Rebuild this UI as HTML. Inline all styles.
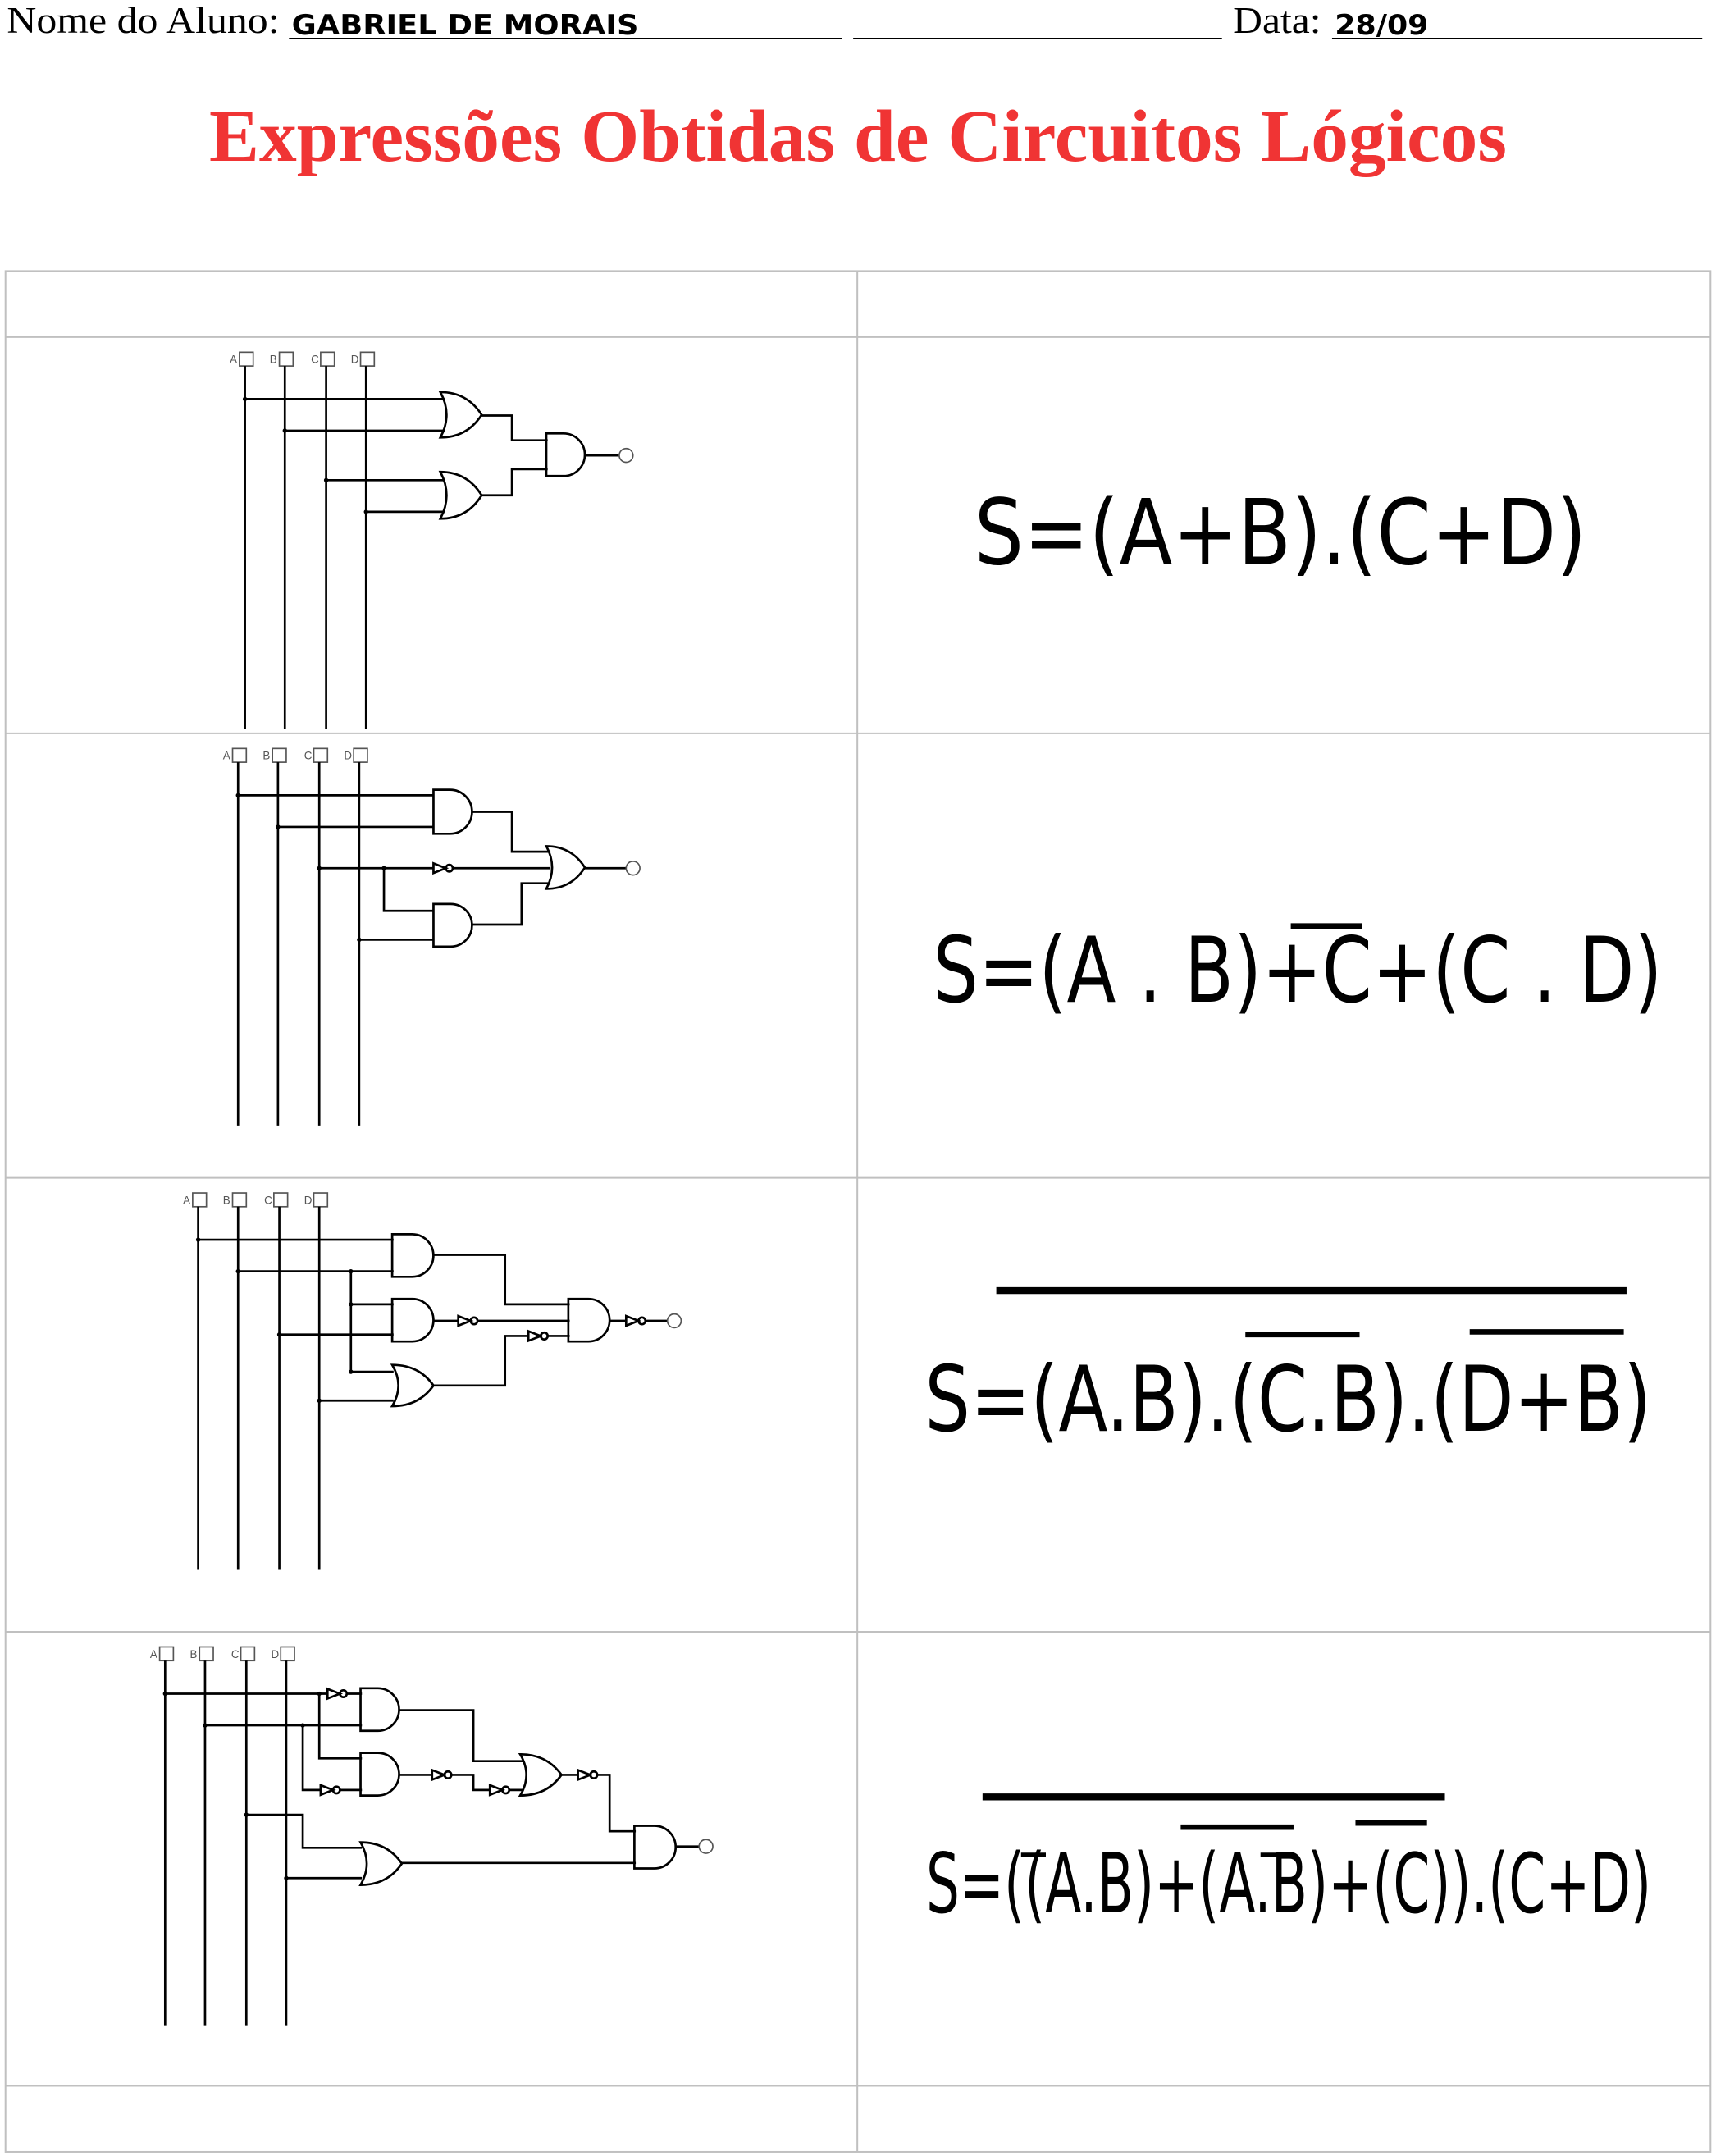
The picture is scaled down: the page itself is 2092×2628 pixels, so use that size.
<!DOCTYPE html>
<html><head><meta charset="utf-8"><style>
html,body{margin:0;padding:0;background:#fff;}
svg{display:block;}
.hw{font-family:"DejaVu Sans","Liberation Sans",sans-serif;fill:#000;}
</style></head><body>
<svg id="page" width="2092" height="2628" viewBox="0 0 1247 1567" preserveAspectRatio="none" xmlns="http://www.w3.org/2000/svg">
<g>
<text x="5" y="24" font-family="Liberation Serif, serif" font-size="27" textLength="198" lengthAdjust="spacingAndGlyphs">Nome do Aluno:</text>
<line x1="210" y1="28" x2="612" y2="28" stroke="#000" stroke-width="1.2"/>
<text x="212" y="25" class="hw" font-size="20" font-weight="bold" textLength="252" lengthAdjust="spacingAndGlyphs">GABRIEL  DE  MORAIS</text>
<line x1="620" y1="28" x2="888" y2="28" stroke="#000" stroke-width="1.2"/>
<text x="896" y="24" font-family="Liberation Serif, serif" font-size="27" textLength="64" lengthAdjust="spacingAndGlyphs">Data:</text>
<line x1="968" y1="28" x2="1237" y2="28" stroke="#000" stroke-width="1.2"/>
<text x="970" y="25" class="hw" font-size="20" font-weight="bold" textLength="68" lengthAdjust="spacingAndGlyphs">28/09</text>
<text x="152" y="117" font-family="Liberation Serif, serif" font-weight="bold" font-size="54" fill="#f03434" textLength="943" lengthAdjust="spacingAndGlyphs">Expressões Obtidas de Circuitos Lógicos</text>
</g>
<g id="table" stroke="#c0c0c0" stroke-width="1.2" fill="none">
<rect x="4" y="197" width="1239" height="1367"/>
<line x1="623" y1="197" x2="623" y2="1564"/>
<line x1="4" y1="245" x2="1243" y2="245"/>
<line x1="4" y1="533" x2="1243" y2="533"/>
<line x1="4" y1="856" x2="1243" y2="856"/>
<line x1="4" y1="1186" x2="1243" y2="1186"/>
<line x1="4" y1="1516" x2="1243" y2="1516"/>
</g>
<g id="circ" stroke="#000" stroke-width="1.6" fill="none"></g>
<g id="expr">
<text x="708" y="410" class="hw" font-size="66" textLength="445" lengthAdjust="spacingAndGlyphs">S=(A+B).(C+D)</text>
<text x="678" y="728" class="hw" font-size="66" textLength="530" lengthAdjust="spacingAndGlyphs">S=(A . B)+C+(C . D)</text>
<line x1="938" y1="673" x2="990" y2="673" stroke="#000" stroke-width="4"/>
<line x1="724" y1="938" x2="1182" y2="938" stroke="#000" stroke-width="5"/>
<line x1="905" y1="970" x2="988" y2="970" stroke="#000" stroke-width="4"/>
<line x1="1068" y1="968" x2="1180" y2="968" stroke="#000" stroke-width="4"/>
<text x="672" y="1040" class="hw" font-size="66" textLength="528" lengthAdjust="spacingAndGlyphs">S=(A.B).(C.B).(D+B)</text>
<line x1="714" y1="1306" x2="1050" y2="1306" stroke="#000" stroke-width="5"/>
<line x1="858" y1="1328" x2="940" y2="1328" stroke="#000" stroke-width="4"/>
<line x1="985" y1="1325" x2="1037" y2="1325" stroke="#000" stroke-width="4"/>
<line x1="742" y1="1348" x2="760" y2="1348" stroke="#000" stroke-width="3"/>
<line x1="916" y1="1348" x2="934" y2="1348" stroke="#000" stroke-width="3"/>
<text x="673" y="1390" class="hw" font-size="60" textLength="527" lengthAdjust="spacingAndGlyphs">S=((A.B)+(A.B)+(C)).(C+D)</text>
</g>
</svg>
<script>
const g=document.getElementById('circ');
const NS='http://www.w3.org/2000/svg';
function add(tag,attrs,name){const e=document.createElementNS(NS,tag);for(const k in attrs)e.setAttribute(k,attrs[k]);


g.appendChild(e);return e;}
function P(d,name){return add('path',{d:d},name);}
function and(x,y,w,h){P(`M${x} ${y}H${x+w-h/2}A${h/2} ${h/2} 0 0 1 ${x+w-h/2} ${y+h}H${x}Z`,'and-gate');}
function or(x,y,w,h){P(`M${x} ${y}Q${x+w*0.3} ${y+h/2} ${x} ${y+h}Q${x+w*0.65} ${y+h} ${x+w} ${y+h/2}Q${x+w*0.65} ${y} ${x} ${y}Z`,'or-gate');}
function not(x,y){P(`M${x} ${y-3.5}L${x+9} ${y}L${x} ${y+3.5}Z`,'not-gate');add('circle',{cx:x+11.5,cy:y,r:2.5},'not-bubble');}
function inputs(xs,y,bottom){const L=['A','B','C','D'];xs.forEach((x,i)=>{
 const t=add('text',{x:x-11,y:y+3,'font-size':8,'font-family':'Liberation Sans, sans-serif',fill:'#555',stroke:'none'},'input-label');t.textContent=L[i];
 add('rect',{x:x-4,y:y-5,width:10,height:10,'stroke-width':1,stroke:'#555'},'input-'+L[i]);
 P(`M${x} ${y+5}V${bottom}`,'input-line');});}
function out(x,y){add('circle',{cx:x,cy:y,r:5,'stroke-width':1,stroke:'#555'},'output');}
function dot(x,y){add('circle',{cx:x,cy:y,r:1.6,fill:'#000',stroke:'none'},'junction');}
inputs([178,207,237,266],261,530);
P('M178 290H323M207 313H323M237 349H323M266 372H323');[[178,290],[207,313],[237,349],[266,372]].forEach(p=>dot(...p));
or(320,285,30,33);or(320,343,30,34);
P('M350 302H372V320H398M350 360H372V341H398');and(397,315,28,31);P('M425 331H450');out(455,331);
inputs([173,202,232,261],549,818);
P('M173 578H315M202 601H315M232 631H315M279 631V662H315M261 683H315');[[173,578],[202,601],[232,631],[279,631],[261,683]].forEach(p=>dot(...p));
and(315,574,28,32);and(315,657,28,31);not(315,631);
P('M330 631H400M343 590H372V619H400M343 672H379V642H400');or(397,615,28,31);P('M425 631H455');out(460,631);
inputs([144,173,203,232],872,1141);
P('M144 901H286M173 924H286M255 924V997H286M255 948H286M203 970H286M232 1018H286');[[144,901],[173,924],[255,924],[255,948],[203,970],[232,1018],[255,997]].forEach(p=>dot(...p));
and(285,897,30,31);and(285,944,30,31);or(285,992,30,30);
P('M315 912H367V948H414M315 960H333M347 960H414M315 1007H367V971H384M398 971H414');not(333,960);not(384,971);
and(413,944,30,31);P('M443 960H455M469 960H485');not(455,960);out(490,960);
inputs([120,149,179,208],1202,1472);
P('M120 1231H238M252 1231H263M149 1254H263M232 1231V1278H263M220 1254V1301H233M247 1301H263M179 1319H220V1343H263M208 1365H263');
[[120,1231],[149,1254],[232,1231],[220,1254],[179,1319],[208,1365]].forEach(p=>dot(...p));
not(238,1231);not(233,1301);
and(262,1227,28,31);and(262,1274,28,31);or(262,1339,30,31);
P('M290 1243H344V1280H380M290 1290H314M328 1290H344V1301H356M370 1301H380');not(314,1290);not(356,1301);
or(378,1275,30,30);P('M408 1290H420M434 1290H443V1331H462M292 1354H462');not(420,1290);
and(461,1327,30,31);P('M491 1342H508');out(513,1342);
</script>
</body></html>
